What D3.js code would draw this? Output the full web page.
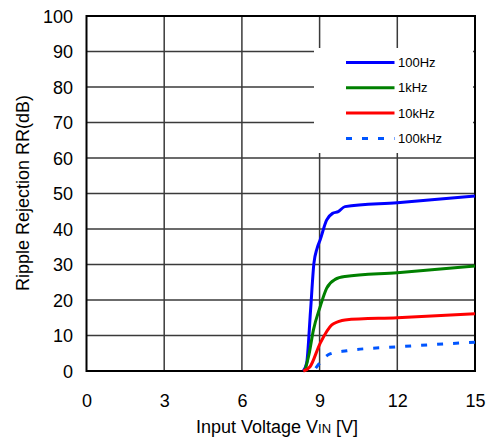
<!DOCTYPE html>
<html><head><meta charset="utf-8">
<script src="https://cdn.jsdelivr.net/npm/d3@7"></script>
<style>body{margin:0;background:#fff}svg{display:block}text{font-family:"Liberation Sans",Arial,sans-serif;fill:#000}</style>
</head><body><svg id="c" width="494" height="439"></svg>
<script>
const xTicks = [0, 3, 6, 9, 12, 15];
const yTicks = [0, 10, 20, 30, 40, 50, 60, 70, 80, 90, 100];
const seriesNames = ["100Hz", "1kHz", "10kHz", "100kHz"];
const vin100Hz = [8.37, 8.5, 8.65, 8.78, 8.9, 9.02, 9.27, 9.5, 9.72, 9.98, 12, 15];
const rr100Hz  = [0, 2.2, 17, 30.3, 34.5, 36.9, 42.5, 44.4, 44.9, 46.3, 47.4, 49.3];
const vin1kHz = [8.43, 8.6, 8.76, 9.02, 9.27, 9.6, 9.98, 12, 15];
const rr1kHz  = [0, 5, 11.5, 18.1, 23.3, 25.8, 26.6, 27.7, 29.6];
const vin10kHz = [8.37, 8.63, 9.02, 9.47, 9.72, 9.98, 12, 15];
const rr10kHz  = [0, 1.2, 7.8, 13.0, 13.9, 14.4, 15.0, 16.1];
const vin100kHz = [8.85, 9.4, 10.05, 11.98, 15];
const rr100kHz  = [0.8, 4.8, 5.7, 6.8, 8.1];
const colors = ["#0000ff", "#008000", "#ff0000", "#0055ff"];

const svg = d3.select("#c");
const x = d3.scaleLinear().domain([0, 15]).range([86.5, 475]);
const y = d3.scaleLinear().domain([0, 100]).range([371, 16]);

// grid
const g = svg.append("g");
g.selectAll(".vg").data(xTicks.slice(1, -1)).enter().append("line")
  .attr("x1", d => x(d)).attr("x2", d => x(d)).attr("y1", y(0)).attr("y2", y(100))
  .attr("stroke", "#3a3a3a").attr("stroke-width", 1.5);
g.selectAll(".hg").data(yTicks.slice(1, -1)).enter().append("line")
  .attr("x1", x(0)).attr("x2", x(15)).attr("y1", d => y(d)).attr("y2", d => y(d))
  .attr("stroke", "#3a3a3a").attr("stroke-width", 1.5);

// legend background box
svg.append("rect").attr("x", 314).attr("y", 48).attr("width", 159).attr("height", 105).attr("fill", "#fff");

// frame
svg.append("rect").attr("x", x(0)).attr("y", y(100)).attr("width", x(15) - x(0)).attr("height", y(0) - y(100))
  .attr("fill", "none").attr("stroke", "#000").attr("stroke-width", 2);

// axes
const xAxis = d3.axisBottom(x).tickValues(xTicks).tickSize(0).tickPadding(0);
const ax = svg.append("g").attr("transform", `translate(0,${y(0)})`).call(xAxis);
ax.select(".domain").remove();
ax.selectAll("text").attr("y", 0).attr("dy", 0).attr("transform", "translate(0,36)")
  .style("font-size", "18px").style("font-family", "Liberation Sans, Arial, sans-serif").attr("fill", "#000");

const yAxis = d3.axisLeft(y).tickValues(yTicks).tickSize(0).tickPadding(0);
const ay = svg.append("g").attr("transform", `translate(73,0)`).call(yAxis);
ay.select(".domain").remove();
ay.selectAll("text").attr("x", 0).attr("dy", "0.35em")
  .style("font-size", "18px").style("font-family", "Liberation Sans, Arial, sans-serif").attr("fill", "#000");

// series
const series = [
  {xs: vin100Hz, ys: rr100Hz},
  {xs: vin1kHz, ys: rr1kHz},
  {xs: vin10kHz, ys: rr10kHz},
  {xs: vin100kHz, ys: rr100kHz}
];
const line = d3.line().x(d => x(d[0])).y(d => y(d[1])).curve(d3.curveMonotoneX);
series.forEach((s, i) => {
  const pts = s.xs.map((v, k) => [v, s.ys[k]]);
  svg.append("path").attr("d", line(pts)).attr("fill", "none")
    .attr("stroke", colors[i]).attr("stroke-width", 3)
    .attr("stroke-dasharray", i === 3 ? "6,10" : null);
});

// legend
const leg = svg.append("g");
seriesNames.forEach((n, i) => {
  const yy = 62.5 + i * 25.3;
  leg.append("line").attr("x1", 346).attr("x2", 394.5).attr("y1", yy).attr("y2", yy)
    .attr("stroke", colors[i]).attr("stroke-width", 3)
    .attr("stroke-dasharray", i === 3 ? "6,10" : null);
  leg.append("text").attr("x", 398).attr("y", yy + 4.5).style("font-size", "13px").text(n);
});

// titles
const xt = svg.append("text").attr("x", 277).attr("y", 432.5).attr("text-anchor", "middle").style("font-size", "18px");
xt.append("tspan").text("Input Voltage V");
xt.append("tspan").style("font-size", "13px").text("IN");
xt.append("tspan").text(" [V]");

svg.append("text").attr("transform", "translate(29,193) rotate(-90)").attr("text-anchor", "middle")
  .style("font-size", "18px").text("Ripple Rejection RR(dB)");
</script></body></html>
